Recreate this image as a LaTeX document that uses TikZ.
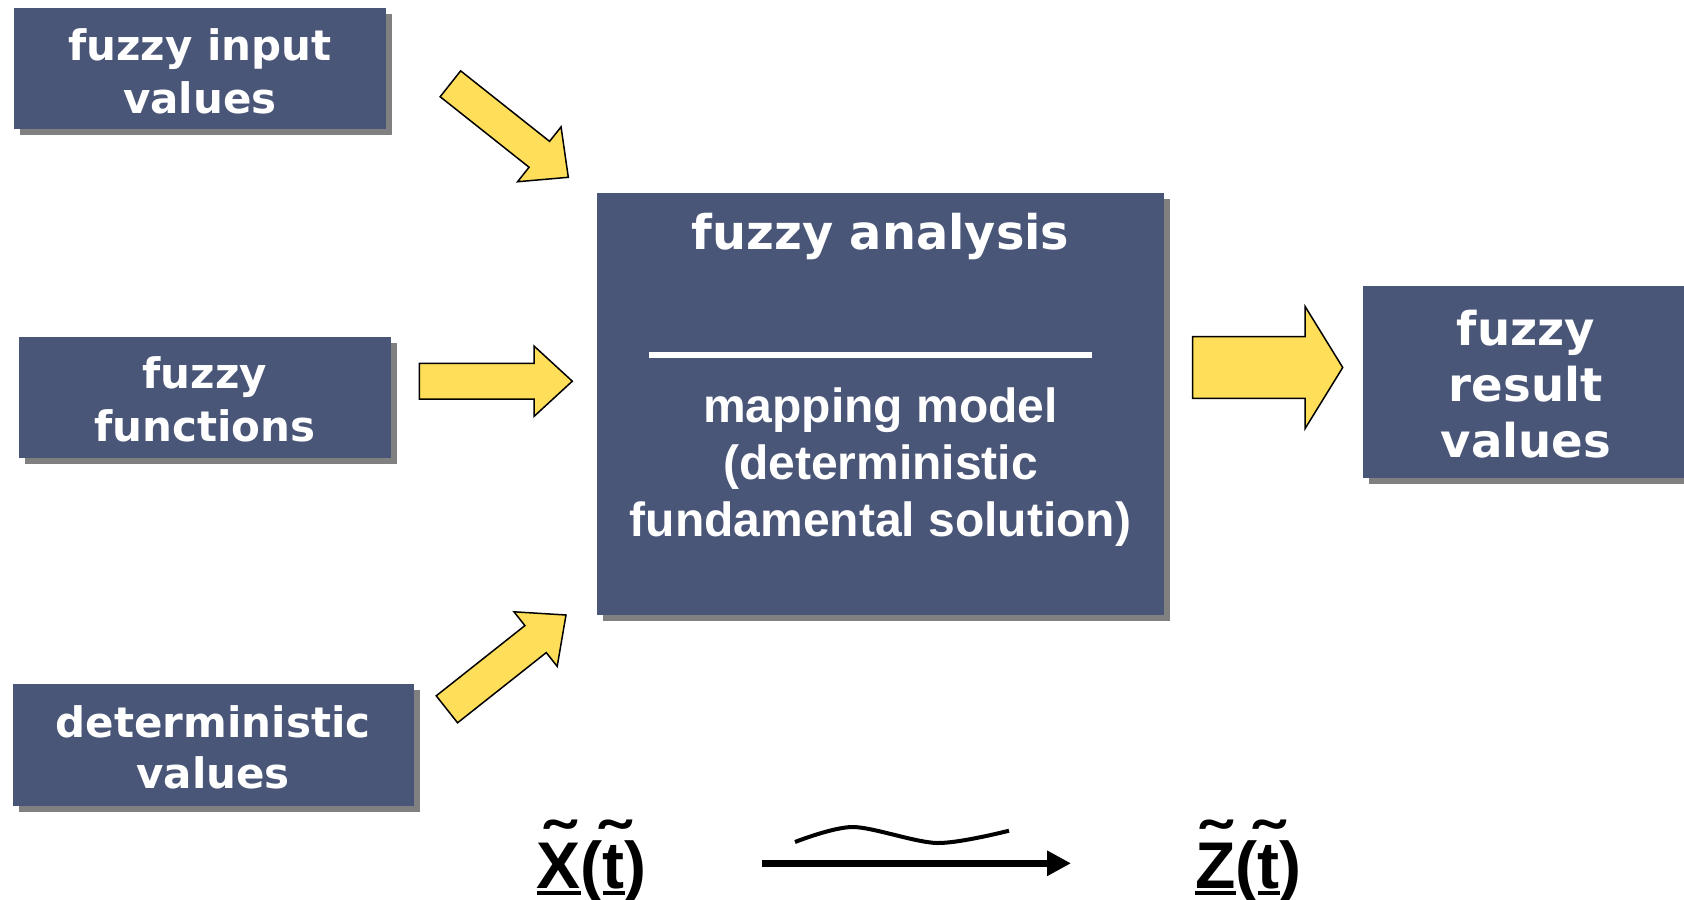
\documentclass[tikz,border=0pt]{standalone}
\usepackage{fontspec}
\usepackage{graphicx}
\setmainfont{DejaVu Sans}
\newfontfamily\arialfont{Liberation Sans}
\usetikzlibrary{calc,shadows,arrows.meta}

\definecolor{boxblue}{RGB}{74,86,120}
\definecolor{shadowgray}{RGB}{128,128,128}
\definecolor{arrowyellow}{RGB}{255,222,89}

% fixed-size text block: width, height, first baseline from top, font size, line skip, text
\newcommand\panelbox[6]{\parbox[c][#2][t]{#1}{\fontsize{#4}{#5}\selectfont\centering\rule{0pt}{#3}#6}}

% fuzzy symbol: letter with a tilde above and a bar below
\newsavebox\fzbox
\newcommand\fz[1]{\sbox\fzbox{#1}%
  \rlap{\makebox[\wd\fzbox]{\raisebox{10.5pt}{\scalebox{1.35}[1]{\char"02DC}}}}%
  \rlap{\raisebox{-3.5pt}{\rule{\wd\fzbox}{2.15pt}}}%
  \usebox\fzbox}

% yellow block arrow: name, tail, tip, shaft half width, head half width, head length
\newcommand\blockarrow[6]{%
  \coordinate (#1b) at ($(#3)!#6!(#2)$);
  \draw[yarrow] ($(#2)!#4!90:(#3)$) -- ($(#1b)!#4!90:(#3)$) -- ($(#1b)!#5!90:(#3)$)
    -- (#3) -- ($(#1b)!#5!-90:(#3)$) -- ($(#1b)!#4!-90:(#3)$) -- ($(#2)!#4!-90:(#3)$) -- cycle;}

\tikzset{
  panel/.style={fill=boxblue, inner sep=0pt, outer sep=0pt, anchor=north west,
    text=white, font=\bfseries,
    drop shadow={shadow xshift=3pt, shadow yshift=-3pt, fill=shadowgray, opacity=1}},
  yarrow/.style={fill=arrowyellow, draw=black, line width=0.75pt, line join=miter},
  formula/.style={anchor=base west, inner sep=0pt, font=\arialfont\bfseries\fontsize{33}{36}\selectfont},
}

\begin{document}
\begin{tikzpicture}[x=0.5pt, y=-0.5pt]
\useasboundingbox (0,0) rectangle (1684,899);
\clip (0,0) rectangle (1684,899);

% input panels
\node[panel] (inval) at (14,8.3)
  {\panelbox{186pt}{60.5pt}{26pt}{21pt}{26.5pt}{fuzzy input\\values}};
\node[panel] (infun) at (19,336.7)
  {\panelbox{185.85pt}{60.8pt}{26pt}{21pt}{26.5pt}{fuzzy\\functions}};
\node[panel] (indet) at (12.9,684)
  {\panelbox{200.3pt}{60.75pt}{26.6pt}{21pt}{25.6pt}{deterministic\\values}};

% central analysis panel
\node[panel] (fa) at (597,193)
  {\panelbox{283.5pt}{211pt}{28pt}{23.9pt}{28pt}{fuzzy analysis}};
\coordinate (sepl) at (649,355);
\coordinate (sepr) at (1092,355);
\draw[white, line width=3.25pt] (sepl) -- (sepr);
\node[anchor=north, inner sep=0pt, text=white, font=\arialfont\bfseries] (mm) at (880.5,379)
  {\parbox[t]{283pt}{\fontsize{24}{28.5}\selectfont\centering\rule{0pt}{21.35pt}mapping model\\(deterministic\\fundamental solution)}};

% result panel
\node[panel] (res) at (1363,286)
  {\panelbox{162.8pt}{96.15pt}{29.5pt}{23.3pt}{28pt}{fuzzy\\result\\values}};

% block arrows
\coordinate (a1t) at (450.4,83.8);   \coordinate (a1h) at (568.3,177.3);
\coordinate (a2t) at (419.3,381.2);  \coordinate (a2h) at (572.3,381.2);
\coordinate (a3t) at (446.9,709.3);  \coordinate (a3h) at (566,615);
\coordinate (a4t) at (1192.7,367.5); \coordinate (a4h) at (1342.7,367.5);
\blockarrow{a1}{a1t}{a1h}{8.25pt}{17.5pt}{18.5pt}
\blockarrow{a2}{a2t}{a2h}{8.9pt}{17.6pt}{19.15pt}
\blockarrow{a3}{a3t}{a3h}{8.6pt}{17.4pt}{19.4pt}
\blockarrow{a4}{a4t}{a4h}{15.4pt}{30.6pt}{18.85pt}

% mapping formula
\node[formula] (xt) at (536.5,888) {\fz{X}(\fz{t})};
\node[formula] (zt) at (1195,888) {\fz{Z}(\fz{t})};
\coordinate (ms) at (761.7,863.3);
\coordinate (me) at (1071,863.3);
\draw[line width=3.5pt, -{Triangle[length=12pt,width=12pt]}] (ms) -- (me);
\draw[line width=2pt] plot[smooth] coordinates {(795,842) (853,827) (937,843) (1009,830.7)};
\end{tikzpicture}
\end{document}
